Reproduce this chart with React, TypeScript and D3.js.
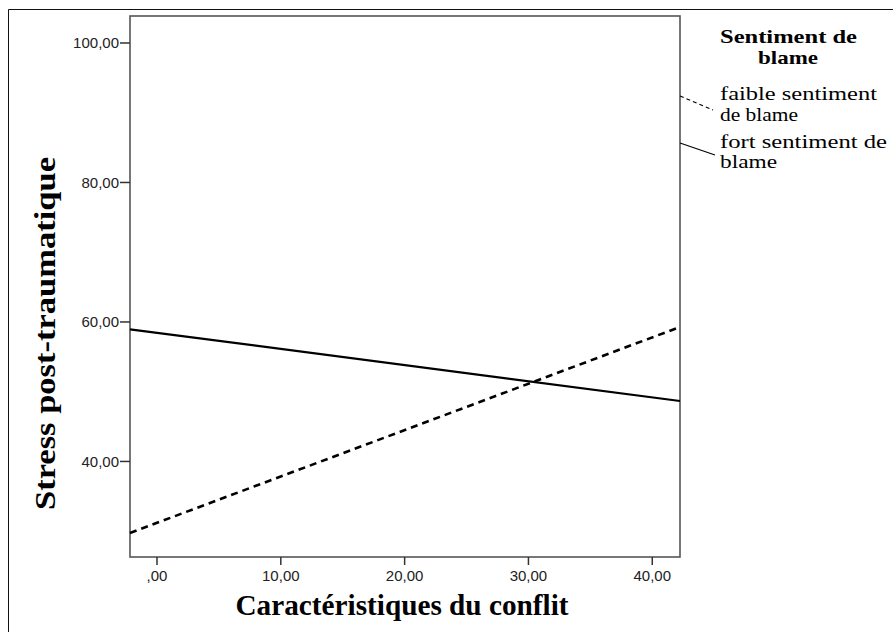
import React from "react";
import * as d3 from "d3";

const xTicks = [0, 10, 20, 30, 40];
const yTicks = [40, 60, 80, 100];
const xDomain = [-2.18, 42.24];
const yDomain = [26.3, 103.87];

const seriesNames = ["faible sentiment de blame", "fort sentiment de blame"];
const faibleX = [-2.18, 42.24];
const faibleY = [29.75, 59.28];
const fortX = [-2.18, 42.24];
const fortY = [58.95, 48.67];

const W = 893, H = 632;
const L = 130, R = 680, T = 16, B = 557;

const fmt = (v: number) => (v === 0 ? ",00" : v.toFixed(2).replace(".", ","));

export default function App() {
  const x = d3.scaleLinear().domain(xDomain).range([L, R]);
  const y = d3.scaleLinear().domain(yDomain).range([B, T]);
  const line = d3.line<[number, number]>().x(d => x(d[0])).y(d => y(d[1]));
  const faible = faibleX.map((v, i) => [v, faibleY[i]] as [number, number]);
  const fort = fortX.map((v, i) => [v, fortY[i]] as [number, number]);
  const serif = "'Liberation Serif', 'Times New Roman', serif";
  const sans = "'Liberation Sans', Arial, sans-serif";
  return (
    <svg width={W} height={H} style={{ position: "absolute", left: 0, top: 0, background: "#fff" }}>
      {/* outer frame (top and left visible) */}
      <line x1={8.5} y1={9.5} x2={W} y2={9.5} stroke="#111" strokeWidth={1} />
      <line x1={8.5} y1={9.5} x2={8.5} y2={H} stroke="#111" strokeWidth={1} />
      {/* plot frame */}
      <rect x={L} y={T} width={R - L} height={B - T} fill="#fff" stroke="#555" strokeWidth={1.6} />
      {/* y ticks */}
      {yTicks.map(t => (
        <g key={"y" + t}>
          <line x1={L - 10} x2={L} y1={y(t)} y2={y(t)} stroke="#333" strokeWidth={1.5} />
          <text x={L - 11} y={y(t)} dy="0.36em" textAnchor="end" fontFamily={sans} fontSize={15} fill="#222">{fmt(t)}</text>
        </g>
      ))}
      {/* x ticks */}
      {xTicks.map(t => (
        <g key={"x" + t}>
          <line x1={x(t)} x2={x(t)} y1={B} y2={B + 8} stroke="#333" strokeWidth={1.5} />
          <text x={x(t)} y={580.5} textAnchor="middle" fontFamily={sans} fontSize={15} fill="#222">{fmt(t)}</text>
        </g>
      ))}
      {/* lines */}
      <path d={line(faible) || ""} fill="none" stroke="#000" strokeWidth={2.6} strokeDasharray="7,5" />
      <path d={line(fort) || ""} fill="none" stroke="#000" strokeWidth={2.2} />
      {/* axis titles */}
      <text x={402} y={615} textAnchor="middle" fontFamily={serif} fontWeight="bold" fontSize={30} textLength={333} lengthAdjust="spacingAndGlyphs" fill="#000">Caractéristiques du conflit</text>
      <text transform={`translate(55,${(157 + 510) / 2}) rotate(-90)`} textAnchor="middle" fontFamily={serif} fontWeight="bold" fontSize={30} textLength={353} lengthAdjust="spacingAndGlyphs" fill="#000">Stress post-traumatique</text>
      {/* legend */}
      <text x={788.5} y={43} textAnchor="middle" fontFamily={serif} fontWeight="bold" fontSize={19} textLength={137} lengthAdjust="spacingAndGlyphs" fill="#000">Sentiment de</text>
      <text x={788} y={64} textAnchor="middle" fontFamily={serif} fontWeight="bold" fontSize={19} textLength={60} lengthAdjust="spacingAndGlyphs" fill="#000">blame</text>
      <line x1={R} y1={96} x2={713} y2={110} stroke="#000" strokeWidth={1.2} strokeDasharray="4,3" />
      <line x1={R} y1={143} x2={715} y2={155} stroke="#000" strokeWidth={1.2} />
      <text x={720} y={100} fontFamily={serif} fontSize={18} textLength={157} lengthAdjust="spacingAndGlyphs" fill="#000">faible sentiment</text>
      <text x={720} y={121} fontFamily={serif} fontSize={18} textLength={78} lengthAdjust="spacingAndGlyphs" fill="#000">de blame</text>
      <text x={720} y={148} fontFamily={serif} fontSize={18} textLength={167} lengthAdjust="spacingAndGlyphs" fill="#000">fort sentiment de</text>
      <text x={720} y={168} fontFamily={serif} fontSize={18} textLength={57} lengthAdjust="spacingAndGlyphs" fill="#000">blame</text>
      <title>{seriesNames.join(" / ")}</title>
    </svg>
  );
}
